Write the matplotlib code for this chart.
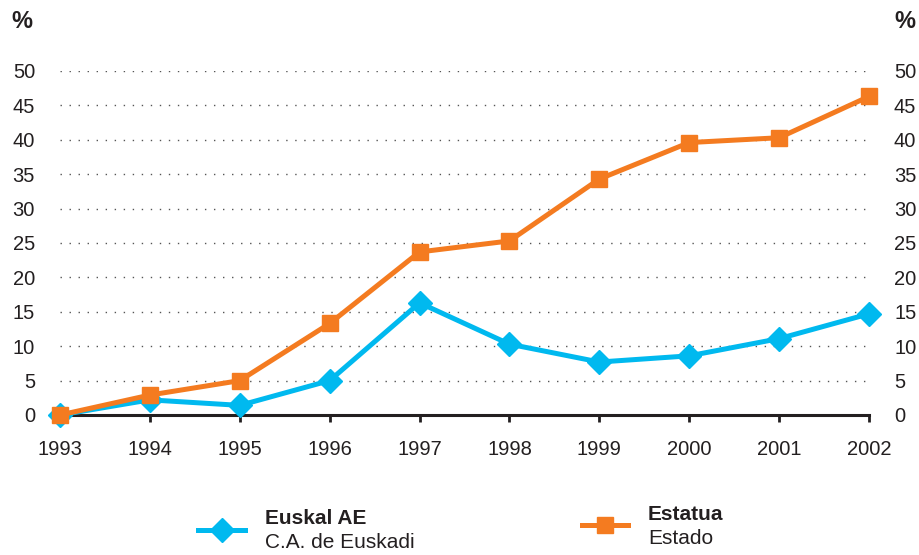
import matplotlib.pyplot as plt

plt.rcParams['font.family'] = ['Liberation Sans', 'DejaVu Sans']

# Data
years = [1993, 1994, 1995, 1996, 1997, 1998, 1999, 2000, 2001, 2002]
euskadi = [0, 2.2, 1.4, 5.0, 16.3, 10.3, 7.7, 8.6, 11.1, 14.7]
estado = [0, 2.9, 5.0, 13.3, 23.7, 25.3, 34.3, 39.6, 40.3, 46.3]
yticks = [0, 5, 10, 15, 20, 25, 30, 35, 40, 45, 50]

blue = '#00B9EF'
orange = '#F47B20'
dark = '#231F20'
txt = '#231F20'

fig = plt.figure(figsize=(9.19, 5.55), dpi=100)
ax = fig.add_axes([60 / 919, 1 - 415 / 555, 809 / 919, 344 / 555])

# dotted grid lines
for y in yticks[1:]:
    ax.plot([years[0], years[-1] - 0.03], [y, y], color='#555555', lw=1.0,
            linestyle=(0, (1, 5.5)), zorder=1)

ax.plot(years, euskadi, color=blue, lw=3.6, marker='D', markersize=12,
        clip_on=False, zorder=3)
ax.plot(years, estado, color=orange, lw=3.6, marker='s', markersize=12,
        clip_on=False, zorder=4)

ax.set_xlim(years[0], years[-1])
ax.set_ylim(0, 50)
for s in ['top', 'right', 'left']:
    ax.spines[s].set_visible(False)
ax.spines['bottom'].set_color(dark)
ax.spines['bottom'].set_linewidth(2.2)
ax.spines['bottom'].set_zorder(2)

ax.set_xticks(years)
ax.set_xticklabels([str(y) for y in years])
ax.tick_params(axis='x', direction='out', length=5, width=2, color=dark,
               labelsize=14.5, labelcolor=txt, pad=13)
ax.set_yticks(yticks)
ax.tick_params(axis='y', length=0, labelsize=14.5, labelcolor=txt, pad=18,
               labelright=True, labelleft=True)

fig.text(22 / 919, 1 - 22 / 555, '%', fontsize=17, fontweight='bold',
         color=txt, ha='center', va='center')
fig.text(905 / 919, 1 - 22 / 555, '%', fontsize=17, fontweight='bold',
         color=txt, ha='center', va='center')

# legend
lax = fig.add_axes([0, 0, 1, 1], facecolor='none')
lax.set_xlim(0, 919)
lax.set_ylim(555, 0)
lax.axis('off')
lax.plot([198, 245], [530, 530], color=blue, lw=3.6)
lax.plot([221.5], [530], marker='D', color=blue, markersize=12)
lax.text(265, 519, 'Euskal AE', fontsize=15, fontweight='bold', color=txt,
         va='center', ha='left')
lax.text(265, 543, 'C.A. de Euskadi', fontsize=15, color=txt,
         va='center', ha='left')
lax.plot([582, 628], [525, 525], color=orange, lw=3.6)
lax.plot([605], [525], marker='s', color=orange, markersize=12)
lax.text(648, 514, 'Estatua', fontsize=15, fontweight='bold', color=txt,
         va='center', ha='left')
lax.text(648, 538, 'Estado', fontsize=15, color=txt,
         va='center', ha='left')

fig.savefig('out.png', dpi=100)
